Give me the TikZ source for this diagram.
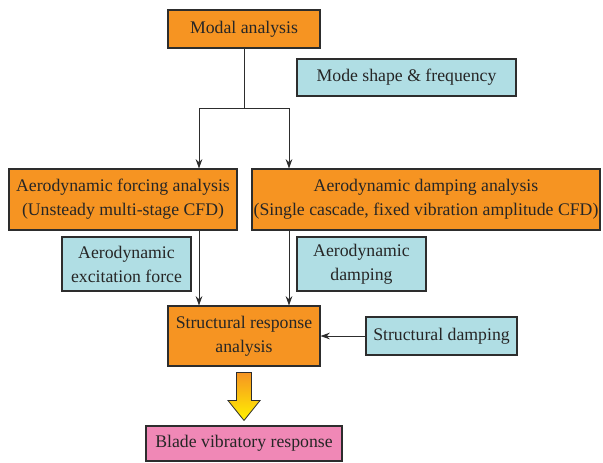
\documentclass[tikz,border=0pt]{standalone}
\usepackage{fontspec}
\setmainfont{Liberation Serif}
\usepackage{tikz}
\usetikzlibrary{arrows.meta, positioning, calc}

\definecolor{taskorange}{RGB}{246,148,34}
\definecolor{datacyan}{RGB}{176,222,228}
\definecolor{resultpink}{RGB}{240,136,182}
\definecolor{edgegray}{RGB}{45,45,45}

\tikzset{
    box/.style={draw=edgegray, line width=0.8pt, inner sep=0pt, align=center,
        text=black!85, font=\fontsize{13.3}{18}\selectfont},
    task/.style={box, fill=taskorange},
    data/.style={box, fill=datacyan},
    flow/.style={-{Stealth[length=7pt,width=5pt]}, line width=0.7pt, edgegray}
}

\begin{document}
\begin{tikzpicture}[x=0.75pt, y=-0.75pt]
    \useasboundingbox (0,0) rectangle (603,462);

    \node[task, minimum width=114pt, minimum height=28.5pt] (modal) at (244,29) {Modal analysis};
    \node[data, minimum width=164.25pt, minimum height=27.75pt] (mode) at (406.5,77.5) {Mode shape \& frequency};

    \node[task, minimum width=171pt, minimum height=45.75pt] (force) at (123,199.5)
        {Aerodynamic forcing analysis\\(Unsteady multi-stage CFD)};
    \node[task, minimum width=261pt, minimum height=45.75pt] (damp) at (426,199.5)
        {Aerodynamic damping analysis\\(Single cascade, fixed vibration amplitude CFD)};

    \node[data, minimum width=96.75pt, minimum height=40.5pt] (excit) at (126.5,264)
        {Aerodynamic\\excitation force};
    \node[data, minimum width=96.75pt, minimum height=40.5pt] (aerodamp) at (361.5,264)
        {Aerodynamic\\damping};

    \node[task, minimum width=114pt, minimum height=45pt] (struct) at (244,336)
        {Structural response\\analysis};
    \node[data, minimum width=113.25pt, minimum height=28.5pt] (sdamp) at (441.5,336) {Structural damping};

    \node[box, fill=resultpink, minimum width=147pt, minimum height=26.25pt] (blade) at (244,443.5)
        {Blade vibratory response};

    % modal split
    \coordinate (split) at (244,108);
    \draw[line width=0.7pt, edgegray] (modal.south) -- (split);
    \draw[flow] (split) -| (force.north -| 199,0);
    \draw[flow] (split) -| (damp.north -| 289,0);

    \draw[flow] (force.south -| 199,0) -- (struct.north -| 199,0);
    \draw[flow] (damp.south -| 289,0) -- (struct.north -| 289,0);
    \draw[flow] (sdamp.west) -- (struct.east);

    % block arrow
    \shade[top color=taskorange, bottom color=yellow!90!orange, draw=edgegray, line width=0.6pt]
        ($(struct.south)+(-7.5,6)$) -- ($(struct.south)+(7.5,6)$) -- ($(struct.south)+(7.5,34)$)
        -- ($(struct.south)+(16,34)$) -- ($(blade.north)+(0,-5)$) -- ($(struct.south)+(-16,34)$)
        -- ($(struct.south)+(-7.5,34)$) -- cycle;
\end{tikzpicture}
\end{document}
